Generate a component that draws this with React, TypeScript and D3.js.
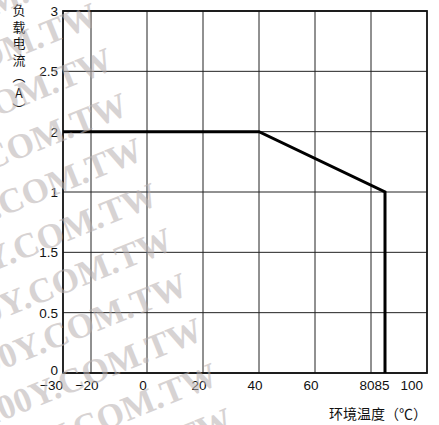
import React from "react";
import * as d3 from "d3";

// Derating curve: ambient temperature (°C) vs. load current label (A)
const tempPoints = [-30, 40, 85, 85];
const currentPoints = ["2", "2", "1", "0"];

// Axis tick labels as printed (bottom to top for the current axis)
const currentTicks = ["0", "0.5", "1.5", "1", "2", "2.5", "3"];
const tempTicks = [-30, -20, 0, 20, 40, 60, 80, 85, 100];
const tempGrid = [-20, 0, 20, 40, 60, 80];

const yTitle = "负载电流（A）";
const xTitle = "环境温度（℃）";
const watermark = "100Y.COM.TW";
const watermarkRows = [-1, 0, 1, 2, 3, 4, 5, 6, 7, 8, 9];

const W = 439;
const H = 425;
const plot = { left: 63, right: 427, top: 11, bottom: 373 };

// horizontal nudge of each temperature label relative to its tick
function labelShift(t: number, i: number): number {
  if (i === 0) return 0;
  if (t === 85) return -3;
  return -4;
}

export default function App() {
  const x = d3.scaleLinear().domain([-30, 100]).range([plot.left, plot.right]);
  const y = d3
    .scalePoint<string>()
    .domain(currentTicks)
    .range([plot.bottom, plot.top]);

  const line = d3
    .line<number>()
    .x((_, i) => x(tempPoints[i]))
    .y((_, i) => y(currentPoints[i]) as number);

  const sans = "'Liberation Sans', Arial, Helvetica, sans-serif";
  const cjk = "'Noto Sans CJK SC', 'Noto Sans', sans-serif";

  return (
    <svg
      width={W}
      height={H}
      style={{ position: "absolute", left: 0, top: 0, display: "block", background: "#fff" }}
    >
      {/* grid */}
      <g stroke="#222" strokeWidth={1}>
        {tempGrid.map((t) => (
          <line key={"gx" + t} x1={x(t)} x2={x(t)} y1={plot.top} y2={plot.bottom} />
        ))}
        {currentTicks.map((c) => (
          <line
            key={"gy" + c}
            x1={plot.left}
            x2={plot.right}
            y1={y(c) as number}
            y2={y(c) as number}
          />
        ))}
      </g>
      <rect
        x={plot.left}
        y={plot.top}
        width={plot.right - plot.left}
        height={plot.bottom - plot.top}
        fill="none"
        stroke="#111"
        strokeWidth={1.8}
      />

      {/* derating curve */}
      <path
        d={line(tempPoints) as string}
        fill="none"
        stroke="#000"
        strokeWidth={3}
        strokeLinejoin="miter"
      />

      {/* current tick labels */}
      <g fontFamily={sans} fontSize={13.5} fill="#111" textAnchor="end">
        {currentTicks.map((c) => (
          <text key={"ly" + c} x={plot.left - 5} y={(y(c) as number) + (c === "0" ? 2 : 5)}>
            {c}
          </text>
        ))}
      </g>

      {/* temperature tick labels */}
      <g fontFamily={sans} fontSize={13.5} fill="#111">
        {tempTicks.map((t, i) => {
          const first = i === 0;
          const last = i === tempTicks.length - 1;
          return (
            <text
              key={"lx" + t}
              x={x(t) + labelShift(t, i)}
              y={390}
              textAnchor={first || last ? "end" : "middle"}
            >
              {t < 0 ? "−" + Math.abs(t) : t}
            </text>
          );
        })}
      </g>

      {/* axis titles */}
      <text
        x={19}
        y={4}
        fontFamily={cjk}
        fontSize={13}
        fill="#111"
        letterSpacing={3.5}
        style={{ writingMode: "vertical-rl", textOrientation: "upright" } as any}
      >
        {yTitle}
      </text>
      <text x={427} y={419} fontFamily={cjk} fontSize={14} fill="#111" textAnchor="end">
        {xTitle}
      </text>

      {/* watermark */}
      <g
        fontFamily="'Liberation Serif', 'DejaVu Serif', serif"
        fontWeight="bold"
        fontSize={35}
        fill="#b8b0b0"
        opacity={0.55}
        textAnchor="end"
      >
        {watermarkRows.map((k) => (
          <text
            key={"wm" + k}
            transform={`translate(${100 + 15 * k},${24 + 45 * k}) rotate(-22)`}
          >
            {watermark}
          </text>
        ))}
      </g>
    </svg>
  );
}
